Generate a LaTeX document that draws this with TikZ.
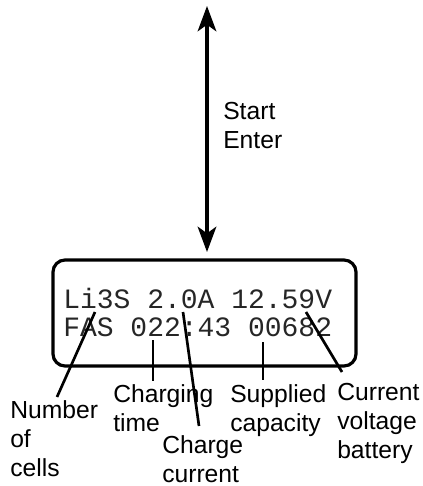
\documentclass[tikz,border=0pt]{standalone}
\usepackage{fontspec}
\setmainfont{Liberation Sans}
\newfontfamily\lcdfont{Liberation Mono}
\usetikzlibrary{arrows.meta, positioning}

\tikzset{
  desc/.style={font=\fontsize{18.5}{21.75}\selectfont, align=left, inner sep=0pt, anchor=base west},
  pointer/.style={line width=2pt},
  lcd/.style={font=\lcdfont\fontsize{21}{21}\selectfont, align=left, inner sep=0pt, anchor=base west, text=black!85},
  keytip/.tip={Stealth[length=19pt, width=14pt, inset=5pt]}
}

\begin{document}
\begin{tikzpicture}[x=0.75pt, y=-0.75pt]
        % Fix the page to the reference size
        \useasboundingbox (0,0) rectangle (422,486);
        % Start / Enter key arrow
        \coordinate (up) at (207,6);
        \coordinate (down) at (207,252);
        \draw[line width=2.4pt, keytip-keytip] (up) -- (down);
        \node[desc] (start) at (223,148) {Start\\Enter};
        % Display
        \draw[line width=2.4pt, rounded corners=9pt] (53,260) rectangle (356,366);
        \node[lcd] (lcd) at (63,336) {Li3S 2.0A 12.59V\\FAS 022:43 00682};
        % Captions (anchored at the baseline of the last line)
        \node[desc] (cells) at (10,476) {Number\\of\\cells};
        \node[desc] (time) at (113,431) {Charging\\time};
        \node[desc] (current) at (162,482) {Charge\\current};
        \node[desc] (capacity) at (230,431) {Supplied\\capacity};
        \node[desc] (voltage) at (337,458) {Current\\voltage\\battery};
        % Pointer ends
        \coordinate (cellsA) at (95,312);   \coordinate (cellsB) at (57,397);
        \coordinate (timeA) at (153,340);   \coordinate (timeB) at (153,381);
        \coordinate (currentA) at (183,312); \coordinate (currentB) at (199,426);
        \coordinate (capacityA) at (263,342); \coordinate (capacityB) at (263,380);
        \coordinate (voltageA) at (306,312); \coordinate (voltageB) at (342,372);
        \foreach \p in {cells, time, current, capacity, voltage}
          \draw[pointer] (\p A) -- (\p B);
    \end{tikzpicture}
\end{document}
